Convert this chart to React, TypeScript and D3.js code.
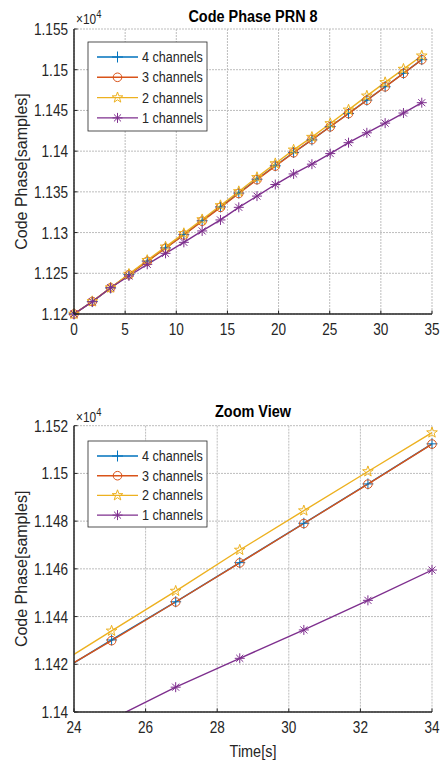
import React from 'react';
import * as d3 from 'd3';

const TIME = [0, 1.79, 3.58, 5.37, 7.16, 8.95, 10.74, 12.53, 14.32, 16.11, 17.89, 19.68, 21.47, 23.26, 25.05, 26.84, 28.63, 30.42, 32.21, 34.0];
const CH4 = [11200, 11215.2, 11232, 11248.5, 11265, 11281.2, 11297.5, 11314.5, 11331.5, 11348.5, 11365.5, 11382, 11398.3, 11413.8, 11430.2, 11446.2, 11462.6, 11479.1, 11495.6, 11512.4];
const CH3 = [11200, 11215.3, 11232.1, 11248.3, 11264.6, 11280.8, 11297, 11314, 11331, 11348, 11365, 11381.6, 11398, 11414.2, 11429.9, 11446.1, 11462.5, 11479, 11495.5, 11512.3];
const CH2 = [11200, 11215.4, 11232.3, 11249, 11266, 11282.5, 11299, 11316, 11333.3, 11350.5, 11367.8, 11384.8, 11401.6, 11417.2, 11434, 11450.7, 11467.9, 11484.4, 11500.8, 11517.1];
const CH1 = [11200, 11215.1, 11232.3, 11246.7, 11261, 11274.5, 11288, 11302, 11315.5, 11331, 11344.8, 11359, 11372, 11384, 11397, 11410.4, 11422.5, 11434.4, 11446.8, 11459.5];

const SERIES = [CH4, CH3, CH2, CH1];
const SERIES_NAMES = ['4 channels', '3 channels', '2 channels', '1 channels'];
const COLORS = ['#0072BD', '#D95319', '#EDB120', '#7E2F8E'];
const MARKERS = ['plus', 'circle', 'star', 'asterisk'];

const TOP_X_TICKS = [0, 5, 10, 15, 20, 25, 30, 35];
const TOP_Y_TICKS = [11200, 11250, 11300, 11350, 11400, 11450, 11500, 11550];
const ZOOM_X_TICKS = [24, 26, 28, 30, 32, 34];
const ZOOM_Y_TICKS = [11400, 11420, 11440, 11460, 11480, 11500, 11520];

const AX = '#262626';
const FONT = 'Liberation Sans, Arial, Helvetica, sans-serif';
const SX = 0.85;

function T({ x, y, size, anchor = 'start', weight = 'normal', fill = AX, children, rot = false, sx = SX }: any) {
  const tr = `translate(${x},${y}) scale(${sx},1)${rot ? ' rotate(-90)' : ''}`;
  return (
    <text transform={tr} fontSize={size} fontFamily={FONT} fontWeight={weight} textAnchor={anchor} fill={fill}>
      {children}
    </text>
  );
}

function Marker({ type, x, y, color }: any) {
  const sw = 1;
  if (type === 'plus') {
    const r = 5.5;
    return <path d={`M${x - r},${y}H${x + r}M${x},${y - r}V${y + r}`} stroke={color} strokeWidth={sw} fill="none" />;
  }
  if (type === 'circle') {
    return <circle cx={x} cy={y} r={4.3} stroke={color} strokeWidth={sw} fill="none" />;
  }
  if (type === 'star') {
    const R = 5.6, r = R * 0.4;
    const pts: string[] = [];
    for (let k = 0; k < 10; k++) {
      const a = -Math.PI / 2 + (k * Math.PI) / 5;
      const rr = k % 2 === 0 ? R : r;
      pts.push(`${x + rr * Math.cos(a)},${y + rr * Math.sin(a)}`);
    }
    return <polygon points={pts.join(' ')} stroke={color} strokeWidth={sw} fill="none" />;
  }
  const r = 5, d = r * 0.7071;
  return (
    <path
      d={`M${x - r},${y}H${x + r}M${x},${y - r}V${y + r}M${x - d},${y - d}L${x + d},${y + d}M${x - d},${y + d}L${x + d},${y - d}`}
      stroke={color}
      strokeWidth={sw}
      fill="none"
    />
  );
}

function Panel({ id, top, bottom, xDomain, yDomain, xTicks, yTicks, title, titleY, expY, xLabel, legendTop, legendGap, legendH }: any) {
  const left = 74, right = 432;
  const xs = d3.scaleLinear().domain(xDomain).range([left, right]);
  const ys = d3.scaleLinear().domain(yDomain).range([bottom, top]);
  const line = d3.line<number>().x((_, i) => xs(TIME[i])).y((d) => ys(d));
  const fmt = (v: number) => String(+(v / 1e4).toFixed(4));
  const inside = (t: number, v: number) => t >= xDomain[0] - 1e-9 && t <= xDomain[1] + 1e-9 && v >= yDomain[0] - 1e-9 && v <= yDomain[1] + 1e-9;
  const tick = 3.5;
  return (
    <g>
      <defs>
        <clipPath id={`clip-${id}`}>
          <rect x={left} y={top} width={right - left} height={bottom - top} />
        </clipPath>
      </defs>
      {xTicks.map((t: number) => (
        <line key={'gx' + t} x1={xs(t)} x2={xs(t)} y1={top} y2={bottom} stroke="#bdbdbd" strokeWidth={1} strokeDasharray="2,1" />
      ))}
      {yTicks.map((v: number) => (
        <line key={'gy' + v} x1={left} x2={right} y1={ys(v)} y2={ys(v)} stroke="#bdbdbd" strokeWidth={1} strokeDasharray="2,1" />
      ))}
      <g clipPath={`url(#clip-${id})`}>
        {SERIES.map((s, k) => (
          <path key={'l' + k} d={line(s) || ''} stroke={COLORS[k]} strokeWidth={1.4} fill="none" />
        ))}
      </g>
      {SERIES.map((s, k) => (
        <g key={'m' + k}>
          {s.map((v, i) => (inside(TIME[i], v) ? <Marker key={i} type={MARKERS[k]} x={xs(TIME[i])} y={ys(v)} color={COLORS[k]} /> : null))}
        </g>
      ))}
      <line x1={left} x2={left} y1={top} y2={bottom} stroke={AX} strokeWidth={1.5} />
      <line x1={left} x2={right} y1={bottom} y2={bottom} stroke={AX} strokeWidth={1.5} />
      {xTicks.map((t: number) => (
        <g key={'tx' + t}>
          <line x1={xs(t)} x2={xs(t)} y1={bottom} y2={bottom - tick} stroke={AX} strokeWidth={1} />
          <T x={xs(t)} y={bottom + 21} size={16} anchor="middle">{t}</T>
        </g>
      ))}
      {yTicks.map((v: number) => (
        <g key={'ty' + v}>
          <line x1={left} x2={left + tick} y1={ys(v)} y2={ys(v)} stroke={AX} strokeWidth={1} />
          <T x={68} y={ys(v) + 6} size={16} anchor="end">{fmt(v)}</T>
        </g>
      ))}
      <text transform={`translate(76,${expY}) scale(${SX},1)`} fontSize={14} fontFamily={FONT} fill={AX}>
        ×10<tspan fontSize={11} dy={-6}>4</tspan>
      </text>
      <T x={(left + right) / 2} y={titleY} size={17} anchor="middle" weight="bold" fill="#000">{title}</T>
      <T x={27} y={(top + bottom) / 2} size={16} anchor="middle" rot sx={1}>Code Phase[samples]</T>
      {xLabel ? <T x={(left + right) / 2} y={757} size={17} anchor="middle">{xLabel}</T> : null}
      <rect x={88} y={legendTop} width={119} height={legendH} fill="#fff" stroke={AX} strokeWidth={0.8} />
      {SERIES_NAMES.map((n, k) => {
        const yy = legendTop + 15 + k * legendGap;
        return (
          <g key={'lg' + k}>
            <line x1={97} x2={138} y1={yy} y2={yy} stroke={COLORS[k]} strokeWidth={1.4} />
            <Marker type={MARKERS[k]} x={117.5} y={yy} color={COLORS[k]} />
            <T x={142} y={yy + 5} size={15} sx={0.84}>{n}</T>
          </g>
        );
      })}
    </g>
  );
}

export default function App() {
  return (
    <svg width={440} height={765} style={{ position: 'absolute', left: 0, top: 0, background: '#fff' }}>
      <rect x={0} y={0} width={440} height={765} fill="#fff" />
      <Panel
        id="top"
        top={29}
        bottom={314}
        xDomain={[0, 35]}
        yDomain={[11200, 11550]}
        xTicks={TOP_X_TICKS}
        yTicks={TOP_Y_TICKS}
        title="Code Phase PRN 8"
        titleY={21.5}
        expY={24}
        legendTop={42}
        legendGap={20.3}
        legendH={89}
      />
      <Panel
        id="zoom"
        top={425.7}
        bottom={712}
        xDomain={[24, 34]}
        yDomain={[11400, 11520]}
        xTicks={ZOOM_X_TICKS}
        yTicks={ZOOM_Y_TICKS}
        title="Zoom View"
        titleY={417}
        expY={421.5}
        xLabel="Time[s]"
        legendTop={441}
        legendGap={19.7}
        legendH={86}
      />
    </svg>
  );
}
